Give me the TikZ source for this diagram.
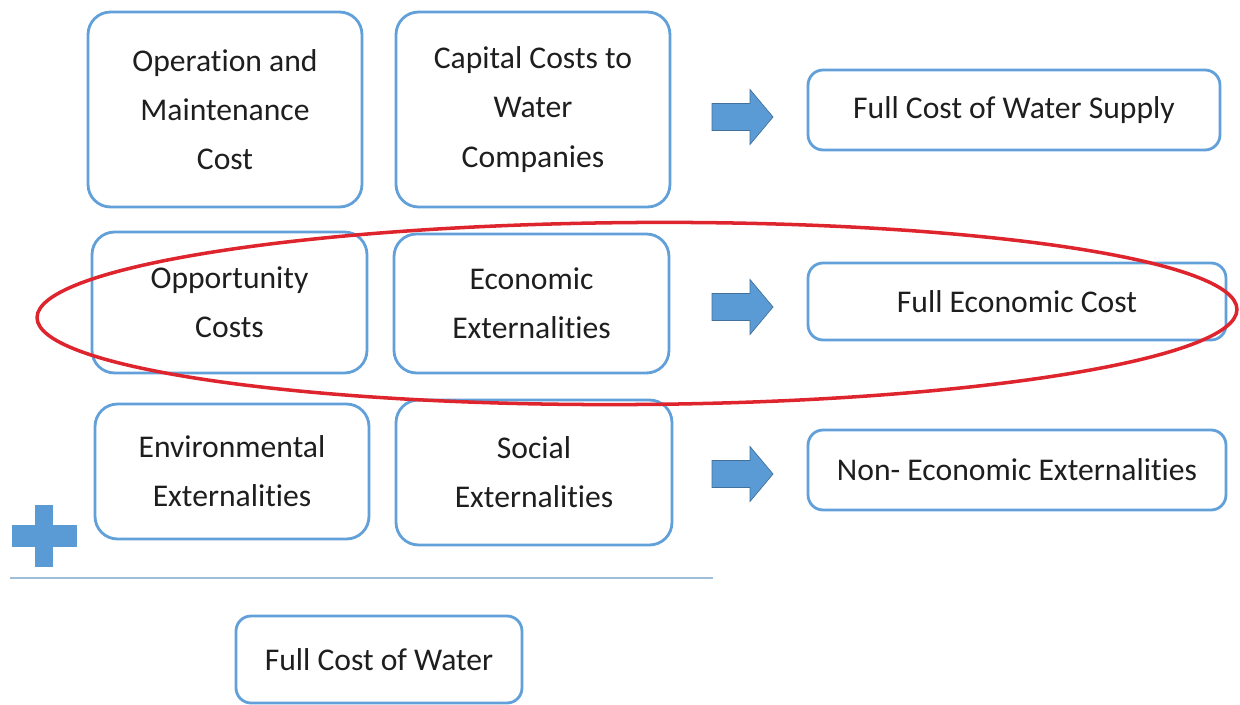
\documentclass[tikz,border=0pt]{standalone}
\usepackage{fontspec}
\setmainfont[Ligatures=NoCommon]{Carlito}
\definecolor{boxblue}{RGB}{98,160,218}
\definecolor{arrowblue}{RGB}{91,155,213}
\definecolor{arrowedge}{RGB}{65,113,156}
\definecolor{ringred}{RGB}{222,36,44}
\definecolor{rulegrey}{RGB}{160,190,215}
\definecolor{textgrey}{RGB}{30,30,30}
\begin{document}
\begin{tikzpicture}[x=0.02cm,y=-0.02cm,
    costbox/.style={draw=boxblue,line width=1.6pt,rounded corners=0.45cm,align=center,
      text=textgrey,font=\fontsize{18}{28}\selectfont,inner sep=0pt},
    resultbox/.style={costbox,rounded corners=0.3cm},
    blockarrow/.style={fill=arrowblue,draw=arrowedge,line width=0.4pt}]
    \useasboundingbox (0,0) rectangle (1240,705);
    % left column of cost parts
    \node[costbox,minimum width=5.48cm,minimum height=3.9cm] (om) at (225,109.5) {Operation and\\Maintenance\\Cost};
    \node[costbox,minimum width=5.48cm,minimum height=3.9cm] (capital) at (533,109.5) {Capital Costs to\\Water\\Companies};
    \node[costbox,minimum width=5.5cm,minimum height=2.82cm] (opportunity) at (229.5,302.5) {Opportunity\\Costs};
    \node[costbox,minimum width=5.5cm,minimum height=2.78cm] (economic) at (531.5,303.5) {Economic\\Externalities};
    \node[costbox,minimum width=5.48cm,minimum height=2.7cm] (environmental) at (232,471.5) {Environmental\\Externalities};
    \node[costbox,minimum width=5.52cm,minimum height=2.9cm] (social) at (534,472.5) {Social\\Externalities};
    % results
    \node[resultbox,minimum width=8.24cm,minimum height=1.6cm] (supply) at (1014,110) {Full Cost of Water Supply};
    \node[resultbox,minimum width=8.36cm,minimum height=1.54cm] (fulleconomic) at (1017,301.5) {Full Economic Cost};
    \node[resultbox,minimum width=8.36cm,minimum height=1.6cm] (noneconomic) at (1017,470) {Non- Economic Externalities};
    \node[resultbox,minimum width=5.72cm,minimum height=1.74cm] (fullwater) at (379,659.5) {Full Cost of Water};
    % block arrows
    \foreach \y in {117,307,474}
        \draw[blockarrow] (712,\y-13.5) -- (750,\y-13.5) -- (750,\y-27.5) -- (773,\y)
            -- (750,\y+27.5) -- (750,\y+13.5) -- (712,\y+13.5) -- cycle;
    % plus sign and sum rule
    \fill[arrowblue] (12,525) rectangle (77,547);
    \fill[arrowblue] (35,505) rectangle (53,567);
    \draw[rulegrey,line width=1.2pt] (10,578) -- (713,578);
    % red ring
    \draw[ringred,line width=2pt,rotate around={0.4:(637,313.5)}] (637,313.5) ellipse (600 and 91);
\end{tikzpicture}
\end{document}
